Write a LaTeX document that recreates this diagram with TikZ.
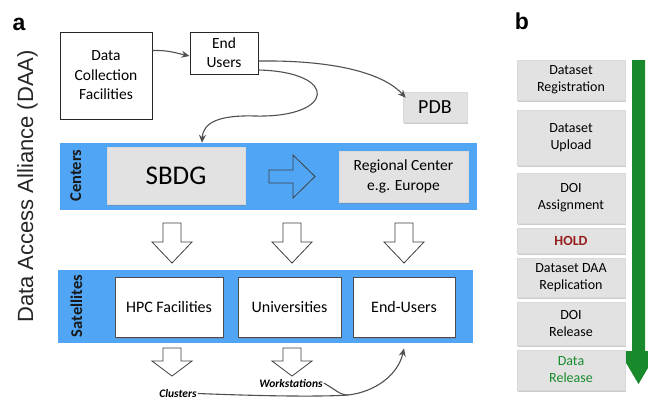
\documentclass[tikz,border=0pt]{standalone}
\usepackage{fontspec}
\setmainfont{Carlito}
\newfontfamily\arialf{Liberation Sans}
\usetikzlibrary{shadows,arrows.meta}
\definecolor{bandblue}{RGB}{80,166,245}
\definecolor{boxgray}{RGB}{226,226,226}
\definecolor{arrgreen}{RGB}{24,138,44}
\definecolor{holdred}{RGB}{150,30,30}
\definecolor{connc}{RGB}{80,80,80}
\begin{document}
\begin{tikzpicture}[x=1pt,y=-1pt,
  plainbox/.style={draw=black!85, line width=1pt, fill=white, align=center, inner sep=0pt},
  graybox/.style={fill=boxgray, draw=black!15, line width=0.5pt,
    drop shadow={shadow xshift=1pt,shadow yshift=-1.5pt,opacity=0.4}, align=center, inner sep=0pt},
  whitebox/.style={fill=white, draw=black!70, line width=0.8pt,
    drop shadow={shadow xshift=1pt,shadow yshift=-1.5pt,opacity=0.4}, align=center, inner sep=0pt,
    font=\fontsize{16}{19}\selectfont},
  bandlabel/.style={rotate=90, anchor=base, font=\fontsize{16.5}{17}\selectfont\bfseries, text=black!90},
  blockarr/.style={draw=black!75, line width=0.8pt, line join=miter},
  connline/.style={draw=connc, line width=1.1pt},
  conn/.style={connline, -{Stealth[length=8pt,width=7pt]}},
  stepbox/.style={graybox, minimum width=108pt, font=\fontsize{14}{17}\selectfont},
  panellabel/.style={font=\arialf\bfseries\fontsize{23}{23}\selectfont},
  smallit/.style={font=\fontsize{11.5}{11.5}\selectfont\bfseries\itshape, inner sep=1pt},
]
\useasboundingbox (0,0) rectangle (648,399);
\clip (0,0) rectangle (648,399);

% panel labels
\node[panellabel] (la) at (19,24) {a};
\node[panellabel] (lb) at (522,21.5) {b};
\node[rotate=90, anchor=base, font=\arialf\fontsize{22}{22}\selectfont, text=black!85] (daa) at (33,186.5) {Data Access Alliance (DAA)};

% top boxes
\node[plainbox, minimum width=92pt, minimum height=87pt, font=\fontsize{15.5}{19.5}\selectfont] (dcf) at (106,75.5) {Data\\Collection\\Facilities};
\node[plainbox, minimum width=68pt, minimum height=42pt, font=\fontsize{15.5}{19}\selectfont] (eu) at (224,53) {End\\Users};
\node[graybox, minimum width=64pt, minimum height=30pt, font=\fontsize{20}{20}\selectfont] (pdb) at (435,107) {PDB};

% centers band
\fill[bandblue] (60,143) rectangle (477,210);
\node[bandlabel] (cl1) at (81,175.5) {Centers};
\node[graybox, minimum width=138pt, minimum height=57pt, font=\fontsize{27}{27}\selectfont] (sbdg) at (176,175.5) {SBDG};
\node[graybox, minimum width=129pt, minimum height=51pt, font=\fontsize{15.5}{20}\selectfont] (rc) at (403.5,176.5) {Regional Center\\e.g. Europe};
\draw[blockarr] (269,170)--(293,170)--(293,155)--(315,176.5)--(293,198)--(293,183)--(269,183)--cycle;

% down block arrows
\foreach \cx in {172,292,404}{
  \draw[blockarr, fill=white] (\cx-9,223)--(\cx+9,223)--(\cx+9,242)--(\cx+20,242)--(\cx,263)--(\cx-20,242)--(\cx-9,242)--cycle;
}

% satellites band
\fill[bandblue] (58,270) rectangle (473,343);
\node[bandlabel] (cl2) at (82,306) {Satellites};
\node[whitebox, minimum width=108pt, minimum height=60pt] (hpc) at (169,307) {HPC Facilities};
\node[whitebox, minimum width=103pt, minimum height=60pt] (uni) at (289.5,307) {Universities};
\node[whitebox, minimum width=102pt, minimum height=60pt] (eus) at (404,307) {End-Users};

% lower block arrows
\foreach \cx in {172,292}{
  \draw[blockarr, fill=white] (\cx-9,348)--(\cx+9,348)--(\cx+9,361)--(\cx+20,361)--(\cx,376)--(\cx-20,361)--(\cx-9,361)--cycle;
}
\node[smallit] (ws) at (291,383) {Workstations};
\node[smallit] (clu) at (178,393.5) {Clusters};

% connectors
\draw[conn] ([yshift=25pt]dcf.east) .. controls (168,50) and (176,53) .. ([yshift=-3pt]eu.west);
\draw[conn] ([yshift=-8pt]eu.east) .. controls (340,60) and (385,75) .. ([xshift=3pt,yshift=-6pt]pdb.north west);
\draw[conn] ([yshift=-17pt]eu.east) .. controls (340,72) and (335,118) .. (255,116) .. controls (220,115) and (203,122) .. ([xshift=26pt,yshift=4pt]sbdg.north);
\coordinate (jn) at (348,395);
\draw[connline] (clu.east) .. controls (260,396) and (320,397) .. (jn);
\draw[connline] (ws.east) .. controls (336,390) and (340,395) .. (jn);
\draw[conn] (jn) .. controls (375,392) and (398,375) .. ([yshift=-11pt]eus.south);

% panel b
\fill[arrgreen] (632,60) -- (645,60) -- (645,351) -- (658,351) -- (638.5,384) -- (619,351) -- (632,351) -- cycle;
\node[stepbox, minimum height=40pt] (s1) at (571,80) {Dataset\\Registration};
\node[stepbox, minimum height=55pt] (s2) at (571,137.5) {Dataset\\Upload};
\node[stepbox, minimum height=50pt] (s3) at (571,198) {DOI\\Assignment};
\node[stepbox, minimum height=25pt, text=holdred] (s4) at (571,240.5) {\bfseries HOLD};
\node[stepbox, minimum height=39pt] (s5) at (571,277.5) {Dataset DAA\\Replication};
\node[stepbox, minimum height=43pt] (s6) at (571,323.5) {DOI\\Release};
\node[stepbox, minimum height=40pt, text=arrgreen] (s7) at (571,370) {Data\\Release};
\end{tikzpicture}
\end{document}
